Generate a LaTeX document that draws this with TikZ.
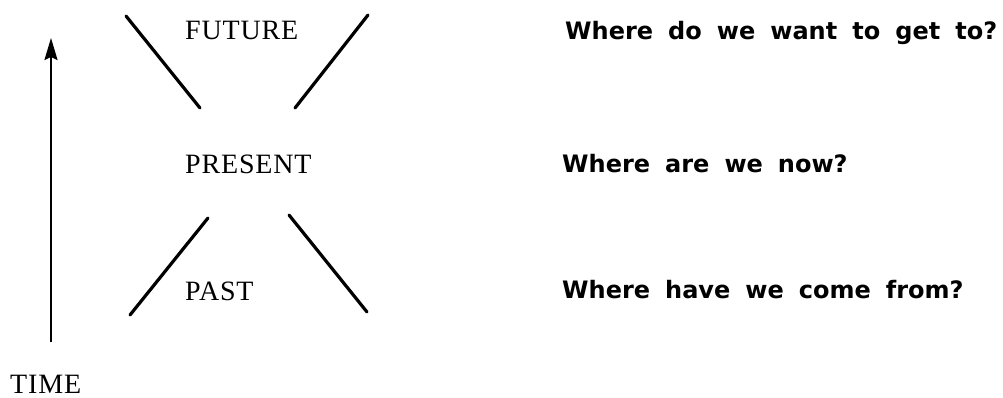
\documentclass[tikz,border=0pt]{standalone}
\usepackage{fontspec}
\setmainfont[LetterSpace=3]{Liberation Serif}
\newfontfamily\qfont[WordSpace=1.8]{DejaVu Sans}
\usetikzlibrary{arrows.meta}
\tikzset{
  lbl/.style={anchor=base west, inner sep=0pt, font=\fontsize{28}{32}\selectfont},
  qst/.style={anchor=base west, inner sep=0pt, font=\qfont\bfseries\fontsize{24}{28}\selectfont},
  bar/.style={line width=3.2pt, line cap=round},
  timearrow/.style={line width=2.2pt, -{Stealth[length=22pt,width=13pt,inset=3pt]}}
}
\begin{document}
\begin{tikzpicture}[x=1pt,y=-1pt]
\useasboundingbox (0,0) rectangle (1003,398);
\node[lbl] (future) at (185,40) {FUTURE};
\node[lbl] (present) at (185,174) {PRESENT};
\node[lbl] (past) at (185,300) {PAST};
\node[lbl] (time) at (10,393) {TIME};
\node[qst] (q1) at (565,40) {Where do we want to get to?};
\node[qst] (q2) at (562,172) {Where are we now?};
\node[qst] (q3) at (562,298) {Where have we come from?};
\coordinate (a1) at (126,16); \coordinate (a2) at (200,108);
\coordinate (b1) at (368,15); \coordinate (b2) at (295,108);
\coordinate (c1) at (130,315); \coordinate (c2) at (208,218);
\coordinate (d1) at (289,215); \coordinate (d2) at (367,312);
\draw[bar] (a1) -- (a2);
\draw[bar] (b1) -- (b2);
\draw[bar] (c1) -- (c2);
\draw[bar] (d1) -- (d2);
\coordinate (t0) at (51,342); \coordinate (t1) at (51,38);
\draw[timearrow] (t0) -- (t1);
\end{tikzpicture}
\end{document}
